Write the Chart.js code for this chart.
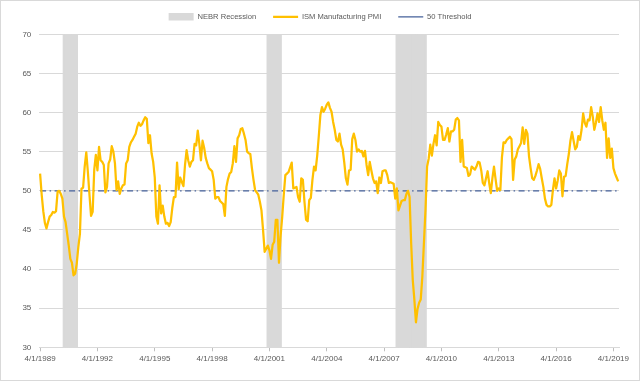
<!DOCTYPE html>
<html>
<head>
<meta charset="utf-8">
<script src="https://cdn.jsdelivr.net/npm/chart.js@4"></script>
<style>
html,body{margin:0;padding:0;background:#fff;}
#wrap{position:relative;width:640px;height:381px;overflow:hidden;}
#c{position:absolute;left:0;top:0;}
#frame{position:absolute;left:0;top:0;width:638px;height:379px;border:1px solid #D9D9D9;pointer-events:none;}
</style>
</head>
<body>
<div id="wrap"><canvas id="c" width="640" height="381"></canvas><div id="frame"></div></div>
<script>
// ---- data (monthly, starting April 1989) ----
const firstYear = 1989;
const firstMonth = 4;

const pmi1989_1999 = [
  52.2, 49.5, 47.4, 45.9, 45.2, 46.0, 46.7, 46.9, 47.3,
  47.2, 47.4, 49.9, 50.0, 49.6, 49.0, 46.7, 46.0, 44.5, 43.0, 41.3, 40.8,
  39.2, 39.4, 40.7, 42.8, 44.5, 50.3, 50.4, 53.1, 54.9, 52.4, 49.5, 46.8,
  47.3, 52.7, 54.6, 52.6, 55.6, 53.9, 53.7, 53.3, 49.8, 50.5, 53.5, 54.0,
  55.7, 55.0, 53.5, 50.1, 51.2, 49.6, 50.3, 50.7, 50.8, 53.5, 53.9, 55.6,
  56.2, 56.5, 56.9, 57.3, 58.2, 58.7, 58.3, 58.5, 59.0, 59.4, 59.2, 56.1,
  57.1, 54.8, 53.7, 51.7, 46.7, 45.8, 50.7, 47.1, 48.1, 46.7, 45.8, 45.9,
  45.5, 46.0, 47.8, 49.2, 49.2, 53.6, 50.2, 51.7, 51.1, 50.6, 53.3, 55.2,
  53.9, 53.1, 53.7, 53.9, 56.0, 55.8, 57.7, 56.0, 53.9, 56.4, 55.5, 54.2,
  53.5, 52.9, 52.7, 52.5, 51.4, 49.0, 49.2, 49.2, 48.7, 48.5, 48.3, 46.8,
  50.5, 51.5, 52.2, 52.4, 53.5, 55.7, 53.7, 56.7, 57.1, 57.9, 58.0, 57.3
];
const pmi2000_2009 = [
  56.5, 55.0, 54.8, 54.7, 52.9, 51.4, 50.1, 49.8, 49.5, 48.6, 47.5, 45.0,
  42.2, 42.6, 43.0, 42.4, 41.3, 43.1, 43.5, 46.3, 46.3, 40.8, 44.2, 46.6,
  49.5, 52.0, 52.2, 52.4, 53.0, 53.6, 50.3, 50.4, 50.5, 49.2, 48.6, 51.6,
  51.4, 48.6, 46.3, 46.1, 48.8, 49.1, 51.4, 53.1, 52.6, 54.5, 57.0, 59.7,
  60.7, 60.1, 60.5, 61.0, 61.3, 60.6, 60.1, 58.8, 57.8, 56.5, 56.3, 57.3,
  55.9, 55.3, 53.6, 51.6, 50.8, 52.6, 52.7, 56.6, 57.3, 56.5, 55.0, 55.3,
  55.0, 55.1, 54.4, 55.1, 53.3, 52.0, 53.7, 52.6, 51.6, 51.0, 51.2, 49.7,
  51.7, 51.0, 52.5, 52.6, 52.6, 52.0, 51.0, 51.1, 51.0, 50.9, 49.0, 50.3,
  47.5, 48.1, 48.7, 48.8, 48.8, 49.6, 50.0, 49.2, 43.3, 38.6, 36.1, 33.2,
  34.9, 35.7, 36.1, 39.0, 43.3, 47.6, 53.1, 54.1, 55.9, 54.5, 56.0, 57.1
];
const pmi2010_2019 = [
  55.8, 58.8, 58.4, 58.2, 56.5, 56.5, 57.2, 58.0, 56.3, 57.6, 57.6, 57.8,
  59.1, 59.3, 59.0, 53.7, 56.5, 53.1, 53.0, 52.9, 51.9, 52.1, 53.1, 52.9,
  52.7, 53.1, 53.7, 53.6, 52.6, 51.0, 50.7, 51.6, 52.5, 51.0, 49.7, 51.6,
  53.1, 51.5, 50.0, 50.3, 50.1, 54.3, 56.2, 56.1, 56.5, 56.7, 56.9, 56.6,
  51.4, 54.0, 54.4, 55.3, 55.7, 56.1, 58.1, 56.0, 57.8, 57.3, 54.4, 52.9,
  51.6, 51.4, 51.9, 52.6, 53.4, 52.8, 51.6, 50.5, 49.0, 48.2, 48.0, 48.0,
  48.2, 50.1, 51.6, 50.3, 51.3, 52.6, 52.2, 49.3, 51.8, 51.9, 53.4, 54.7,
  56.4, 57.5, 56.4, 55.3, 55.6, 57.0, 56.5, 57.8, 59.9, 58.7, 58.2, 59.1,
  59.0, 60.7, 59.5, 57.8, 58.7, 59.9, 58.8, 60.7, 59.0, 57.8, 58.7, 54.2,
  56.7, 54.2, 55.4, 52.9, 52.2, 51.7, 51.2
];
const recessionPeriods = [
  ["7/1/1990", "3/1/1991"],
  ["3/1/2001", "11/1/2001"],
  ["12/1/2007", "6/1/2009"]
];
const thresholdLevel = 50;
const tickLabels = ["4/1/1989","4/1/1992","4/1/1995","4/1/1998","4/1/2001","4/1/2004",
                    "4/1/2007","4/1/2010","4/1/2013","4/1/2016","4/1/2019"];
const yMin = 30, yMax = 70, yStep = 5;

// ---- build library structures ----
const pmi = pmi1989_1999.concat(pmi2000_2009, pmi2010_2019);
const categories = pmi.map((_, i) => {
  const t = (firstMonth - 1) + i;
  return (t % 12 + 1) + "/1/" + (firstYear + Math.floor(t / 12));
});
const recessionData = categories.map(() => null);
recessionPeriods.forEach(([a, b]) => {
  const s = categories.indexOf(a), e = categories.indexOf(b);
  for (let i = s; i <= e; i++) recessionData[i] = [yMin, yMax];
});
const thresholdData = [
  {x: categories[0], y: thresholdLevel},
  {x: categories[categories.length - 1], y: thresholdLevel}
];

Chart.defaults.font.family = "'Liberation Sans', Arial, sans-serif";
Chart.defaults.color = '#595959';

const LEGEND_H = 38.3;
const legendFix = {
  id: 'legendFix',
  beforeLayout(chart) {
    const lg = chart.legend;
    if (lg && !lg._fixed) {
      const fit = lg.fit.bind(lg);
      lg.fit = function () { fit(); this.height = LEGEND_H; };
      lg._fixed = true;
    }
  },
  afterLayout(chart) {
    const lg = chart.legend;
    if (lg) { lg.left = 0; lg.right = chart.width; lg.width = chart.width; }
  }
};

new Chart(document.getElementById('c'), {
  type: 'line',
  data: {
    labels: categories,
    datasets: [
      {
        type: 'bar',
        label: 'NEBR Recession',
        data: recessionData,
        backgroundColor: '#D9D9D9',
        borderWidth: 0,
        barPercentage: 1,
        categoryPercentage: 1,
        inflateAmount: 0.5,
        pointStyle: 'rect',
        order: 3
      },
      {
        type: 'line',
        label: 'ISM Manufacturing PMI',
        data: pmi,
        borderColor: '#FFC000',
        backgroundColor: '#FFC000',
        borderWidth: 2.25,
        borderJoinStyle: 'round',
        pointRadius: 0,
        tension: 0,
        pointStyle: 'line',
        order: 1
      },
      {
        type: 'line',
        label: '50 Threshold',
        data: thresholdData,
        borderColor: '#44609A',
        backgroundColor: '#44609A',
        borderWidth: 1.2,
        borderDash: [6, 3.5, 1.5, 3.5],
        pointRadius: 0,
        pointStyle: 'line',
        order: 2
      }
    ]
  },
  options: {
    responsive: false,
    animation: false,
    devicePixelRatio: 1,
    layout: { padding: { left: 0, right: 21, top: -4, bottom: 0 } },
    plugins: {
      legend: {
        position: 'top',
        labels: {
          usePointStyle: true,
          pointStyleWidth: 25,
          boxHeight: 7.6,
          padding: 17,
          color: '#595959',
          font: { size: 7.6 },
          sort: (a, b) => a.datasetIndex - b.datasetIndex
        }
      },
      tooltip: { enabled: false }
    },
    scales: {
      x: {
        type: 'category',
        offset: true,
        afterFit(s) { s.height = 33.7; },
        grid: {
          offset: false,
          drawOnChartArea: false,
          drawTicks: true,
          tickLength: 4,
          color: (ctx) => (ctx.tick && ctx.tick.label) ? '#BFBFBF' : 'rgba(0,0,0,0)'
        },
        border: { display: true, color: '#D9D9D9', width: 1 },
        ticks: {
          autoSkip: false,
          maxRotation: 0,
          minRotation: 0,
          padding: 3,
          color: '#595959',
          font: { size: 8 },
          callback: function (val) {
            const l = this.getLabelForValue(val);
            return tickLabels.includes(l) ? l : '';
          }
        }
      },
      y: {
        min: yMin,
        max: yMax,
        afterFit(s) { s.width = 39.3; },
        grid: { color: '#D9D9D9', drawTicks: false, lineWidth: 1 },
        border: { display: false },
        ticks: { stepSize: yStep, padding: 8, color: '#595959', font: { size: 8 } }
      }
    }
  },
  plugins: [legendFix]
});
</script>
</body>
</html>
